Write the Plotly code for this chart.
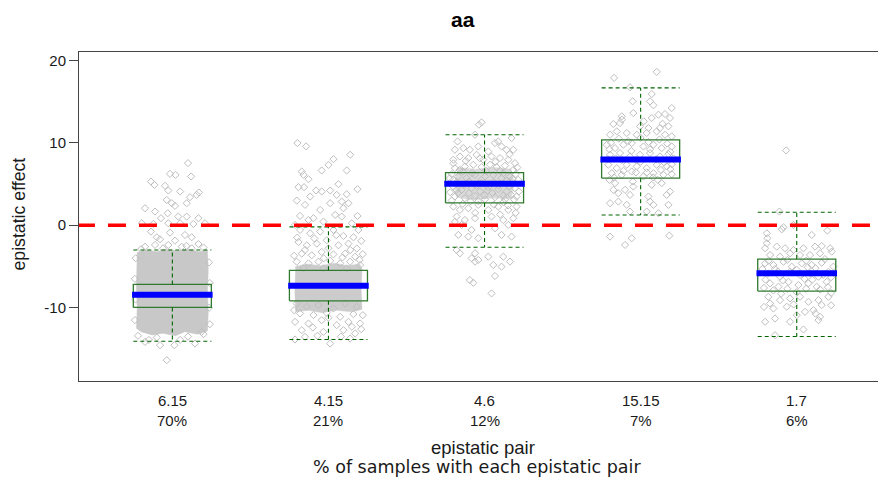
import plotly.graph_objects as go

# ---------------- data ----------------
categories = ["6.15", "4.15", "4.6", "15.15", "1.7"]
percents = ["70%", "21%", "12%", "7%", "6%"]
positions = [1, 2, 3, 4, 5]

q1 = [-9.96, -9.16, 2.71, 5.71, -7.98]
median = [-8.43, -7.34, 5.02, 7.97, -5.83]
q3 = [-7.17, -5.47, 6.39, 10.36, -4.10]
whisk_lo = [-14.06, -13.85, -2.67, 1.25, -13.49]
whisk_hi = [-3.0, -0.2, 10.97, 16.65, 1.58]
ref_value = 0

y_ticks = [-10, 0, 10, 20]
y_tick_text = ["-10", "0", "10", "20"]

# jittered sample points per epistatic pair: (jitter offset, effect)
pts_615 = [
    (0.10, 7.53), (-0.015, 6.23), (0.02, 6.11), (0.12, 5.91), (-0.137, 5.30), (-0.115, 4.90),
    (-0.047, 4.78), (-0.026, 4.21), (0.05, 4.09), (0.17, 3.97), (0.156, 3.68), (-0.175, 2.06),
    (-0.111, 1.66), (-0.036, 3.07), (-0.004, 2.67), (0.017, 2.35), (0.092, 2.67), (0.113, 3.40),
    (-0.03, 1.45), (-0.073, 0.85), (0.038, 1.05), (0.092, 1.05), (0.167, 0.85), (-0.196, 0.24),
    (-0.122, 0.16), (-0.026, 0.24), (0.05, 0.24), (0.135, 0.16), (0.209, 0.24), (-0.137, -0.77),
    (-0.10, -1.46), (-0.079, -1.70), (-0.015, -0.90), (0.017, -1.87), (0.081, -1.18), (0.124, -1.46),
    (0.167, -2.27), (-0.175, -2.60), (-0.111, -2.39), (-0.026, -2.39), (0.06, -2.60), (0.124, -2.80),
    (-0.2, -2.9), (0.2, -2.7), (-0.06, -2.8), (0.09, -2.5),
    (-0.235, -4.0), (-0.24, -6.5), (-0.235, -9.0), (-0.24, -11.5), (0.235, -4.5), (0.24, -7.0),
    (0.235, -10.0), (0.24, -12.0), (-0.22, -13.4), (-0.1, -13.6), (0.1, -13.5), (0.2, -13.2),
    (-0.036, -16.36), (0.013, -14.54), (-0.079, -14.54), (0.145, -14.34), (-0.175, -14.14),
    (0.188, -12.92), (-0.15, -13.9), (0.05, -13.9),
]
pts_415 = [
    (-0.199, 9.96), (-0.143, 9.56), (0.139, 8.54), (0.032, 8.01), (0.0, 7.32), (-0.043, 6.64),
    (0.117, 6.64), (-0.171, 6.51), (-0.16, 6.11), (-0.128, 5.58), (0.064, 4.98), (-0.192, 4.61),
    (-0.156, 4.61), (0.186, 4.37), (-0.079, 4.21), (-0.043, 4.09), (0.011, 4.21), (-0.117, 3.48),
    (0.053, 3.68), (0.117, 3.76), (-0.203, 2.99), (-0.15, 2.47), (-0.053, 1.86), (0.011, 2.67),
    (0.085, 2.87), (0.096, 2.06), (0.128, 2.67), (-0.182, 1.13), (-0.128, 0.64), (-0.096, 0.85),
    (-0.032, 0.44), (0.043, 1.25), (0.085, 1.05), (0.186, 1.13), (0.15, 0.24), (-0.214, 0.04),
    (-0.182, -0.57), (-0.117, -0.98), (-0.053, -0.77), (0.032, -0.57), (0.096, -1.30), (0.16, -1.46),
    (0.192, -0.57), (-0.192, -2.03), (-0.139, -2.43), (-0.075, -2.23), (-0.011, -1.82), (0.064, -2.43),
    (0.128, -2.23), (0.182, -2.83), (-0.171, -3.44), (-0.107, -3.64), (-0.043, -3.24), (0.032, -3.53),
    (0.107, -3.44), (0.171, -3.81), (-0.203, -4.42), (-0.128, -4.62), (-0.064, -4.42), (0.011, -4.30),
    (0.075, -4.62), (0.139, -4.42), (0.203, -4.82), (-0.16, -5.23), (-0.032, -5.23), (0.117, -5.23),
    (-0.2, -1.5), (-0.09, -1.6), (0.05, -1.2), (0.21, -1.9), (-0.15, -3.0), (0.0, -2.8),
    (0.14, -3.0), (0.22, -3.5), (-0.22, -3.7), (-0.03, -4.0), (0.09, -3.9), (0.2, -4.2),
    (-0.203, -9.49), (-0.139, -9.88), (-0.064, -9.68), (0.032, -10.08), (0.107, -9.49), (0.182, -9.88),
    (-0.182, -10.69), (-0.096, -10.89), (-0.011, -10.61), (0.075, -11.10), (0.16, -10.77),
    (-0.214, -11.71), (-0.128, -11.91), (-0.043, -11.51), (0.053, -12.11), (0.128, -11.71),
    (0.203, -11.91), (-0.171, -12.72), (-0.032, -12.92), (0.096, -12.72), (0.171, -13.12),
    (-0.15, -13.53), (0.011, -14.34), (-0.214, -13.85), (0.139, -13.73),
    (-0.1, -12.4), (0.0, -11.2), (0.15, -12.3), (0.22, -10.9), (-0.22, -10.3), (-0.07, -13.4),
    (0.08, -13.5), (0.21, -12.6),
]
pts_46 = [
    (-0.019, 12.47), (-0.036, 12.19), (-0.061, 10.97), (0.173, 10.57), (-0.173, 10.16), (0.088, 10.16),
    (0.067, 9.96), (-0.19, 9.15), (-0.136, 9.35), (-0.094, 9.15), (-0.04, 9.55), (0.024, 8.94),
    (0.109, 9.55), (0.141, 9.15), (0.184, 9.15), (-0.2, 7.94), (-0.158, 8.34), (-0.104, 8.14),
    (-0.051, 8.54), (-0.008, 7.94), (0.045, 8.34), (0.099, 8.14), (0.152, 7.94), (0.195, 7.53),
    (-0.19, 6.92), (-0.126, 7.12), (-0.072, 7.33), (-0.019, 7.04), (0.035, 7.33), (0.077, 7.04),
    (0.131, 7.21), (0.184, 6.72),
    (-0.222, 5.71), (-0.168, 5.91), (-0.115, 5.71), (-0.061, 6.11), (0.003, 5.91), (0.056, 6.11),
    (0.109, 5.71), (0.163, 5.91), (0.216, 5.50), (-0.2, 4.69), (-0.147, 4.29), (-0.083, 4.49),
    (-0.029, 4.09), (0.024, 4.61), (0.088, 4.37), (0.141, 4.09), (0.195, 4.49), (-0.19, 3.48),
    (-0.126, 3.28), (-0.061, 3.56), (0.003, 3.15), (0.067, 3.40), (0.131, 3.15), (0.205, 3.48),
    (-0.18, 5.2), (-0.1, 5.3), (-0.02, 5.5), (0.06, 5.2), (0.14, 5.4), (0.2, 6.2), (-0.21, 6.2),
    (-0.14, 6.5), (0.1, 6.6), (-0.05, 4.8), (0.05, 3.9), (0.17, 3.7), (-0.17, 3.9), (-0.09, 2.9),
    (0.12, 2.8), (0.22, 4.1), (-0.22, 4.0), (0.0, 3.6),
    (-0.2, 7.5), (-0.12, 7.8), (-0.03, 8.1), (0.07, 7.7), (0.16, 8.6), (0.21, 7.0), (-0.16, 6.7),
    (-0.08, 6.3), (0.01, 6.6), (0.12, 6.3), (0.18, 5.6), (-0.2, 5.5), (-0.13, 4.9), (-0.02, 5.1),
    (0.09, 4.8), (0.16, 4.7), (-0.18, 4.3), (-0.1, 3.9), (0.02, 4.2), (0.12, 3.6), (0.19, 3.1),
    (-0.21, 3.0), (-0.14, 2.6), (-0.04, 2.9), (0.06, 2.5), (0.15, 2.4), (-0.06, 1.5), (0.1, 1.3),
    (-0.19, 0.4), (0.2, 1.5),
    (-0.2, 2.26), (-0.158, 1.86), (-0.104, 2.06), (-0.04, 2.47), (0.024, 1.86), (0.088, 2.26),
    (0.152, 1.86), (0.205, 2.26), (-0.179, 1.05), (-0.126, 0.64), (-0.061, 0.85), (0.045, 1.05),
    (0.12, 0.64), (0.184, 0.85), (-0.147, 0.04), (-0.083, -0.57), (0.067, -0.37), (0.152, 0.04),
    (-0.168, -1.17), (-0.104, -1.38), (-0.04, -1.58), (0.109, -1.17), (0.173, -1.38),
    (-0.179, -3.0), (-0.158, -3.40), (-0.061, -3.40), (-0.083, -4.01), (0.024, -3.81), (0.12, -3.81),
    (0.163, -4.41), (-0.04, -4.21), (-0.061, -4.41), (0.056, -4.82), (0.109, -5.02), (-0.094, -6.64),
    (-0.072, -6.97), (0.067, -6.15), (0.045, -8.26),
]
pts_1515 = [
    (0.103, 18.59), (-0.17, 17.86), (-0.068, 16.72), (0.071, 15.91), (-0.051, 15.02), (0.06, 15.02),
    (0.082, 14.54), (0.199, 14.21), (-0.121, 13.2), (-0.047, 13.6), (0.071, 13.0), (0.114, 13.4),
    (0.156, 13.48), (0.188, 13.0), (-0.175, 12.27), (-0.132, 12.39), (-0.004, 11.99), (0.05, 11.78),
    (0.124, 11.78), (0.178, 11.99), (-0.196, 10.97), (-0.153, 11.38), (-0.089, 11.18), (-0.025, 10.97),
    (0.039, 11.18), (0.103, 11.38), (0.156, 10.97), (0.199, 10.77),
    (-0.217, 9.76), (-0.164, 9.35), (-0.111, 9.76), (-0.057, 9.96), (0.018, 9.55), (0.082, 9.76),
    (0.135, 9.35), (0.199, 9.55), (-0.196, 8.54), (-0.132, 8.75), (-0.068, 8.34), (-0.004, 8.54),
    (0.06, 8.75), (0.124, 8.34), (0.178, 8.62), (-0.207, 7.33), (-0.153, 6.92), (-0.089, 7.33),
    (-0.025, 7.13), (0.039, 6.92), (0.103, 7.33), (0.167, 7.13), (-0.185, 6.31), (-0.121, 6.11),
    (-0.057, 6.52), (0.018, 5.91), (0.082, 6.31), (0.146, 6.11), (0.199, 6.19),
    (-0.19, 10.0), (-0.08, 10.2), (0.05, 10.1), (0.17, 9.9), (-0.12, 7.9), (0.0, 7.7), (0.1, 8.0),
    (0.21, 8.1), (-0.21, 8.0), (-0.03, 6.4), (0.13, 6.7), (-0.17, 5.8), (0.08, 5.8), (0.2, 7.4),
    (-0.14, 10.5), (0.0, 10.6), (0.12, 10.4), (-0.2, 9.2), (-0.06, 9.0), (0.06, 9.2), (0.19, 8.9),
    (-0.16, 8.1), (-0.03, 7.9), (0.15, 7.6), (-0.11, 6.6), (0.04, 6.4), (0.19, 6.8), (-0.2, 5.5),
    (-0.05, 5.3), (0.11, 5.5), (-0.12, 12.8), (0.02, 12.6), (0.14, 12.3),
    (-0.164, 5.10), (-0.175, 4.29), (-0.1, 4.29), (-0.047, 4.69), (0.071, 4.90), (0.135, 5.10),
    (0.188, 4.09), (-0.143, 3.88), (-0.068, 3.68), (0.05, 3.48), (0.167, 3.68), (-0.196, 2.67),
    (-0.143, 2.87), (-0.089, 2.47), (0.06, 2.87), (0.082, 2.47), (0.178, 2.47), (0.039, 1.66),
    (0.114, 1.46), (-0.068, 1.66), (-0.196, -1.38), (-0.057, -1.58), (-0.1, -2.39), (0.184, -1.26),
]
pts_17 = [
    (-0.068, 9.07), (-0.111, 1.66), (-0.085, -0.25), (-0.096, -0.49), (0.096, -1.18), (0.196, -0.65),
    (-0.021, 0.04), (-0.192, -0.98), (-0.188, -1.58), (-0.192, -2.19), (-0.203, -2.79), (-0.128, -2.59),
    (-0.075, -2.79), (-0.021, -3.0), (0.043, -2.79), (0.117, -2.59), (0.16, -2.52), (0.214, -2.79),
    (-0.171, -3.61), (-0.107, -3.81), (-0.043, -3.40), (0.021, -3.61), (0.085, -3.61), (0.149, -3.40),
    (0.224, -3.20),
    (-0.203, -4.62), (-0.149, -4.82), (-0.085, -4.42), (-0.032, -5.02), (0.032, -4.62), (0.096, -4.82),
    (0.16, -4.54), (0.235, -5.02), (-0.182, -5.83), (-0.107, -6.24), (-0.043, -5.63), (0.021, -6.03),
    (0.085, -5.83), (0.139, -6.24), (0.203, -5.63), (-0.171, -7.05), (-0.117, -7.45), (-0.053, -6.85),
    (0.011, -7.25), (0.075, -7.05), (0.128, -7.45), (0.192, -6.85),
    (-0.14, -5.3), (0.0, -5.4), (0.12, -5.2), (0.2, -7.5), (-0.2, -6.6), (-0.06, -7.7), (0.05, -6.5),
    (0.17, -6.0), (-0.21, -7.6),
    (-0.18, -4.3), (-0.06, -4.2), (0.06, -4.3), (0.18, -4.1), (-0.12, -5.6), (0.07, -5.1), (0.22, -6.3),
    (-0.22, -5.3), (-0.09, -6.7), (0.1, -6.6), (-0.15, -7.9), (0.0, -8.1), (0.15, -7.8), (0.22, -8.2),
    (-0.1, -8.3), (0.06, -7.7), (-0.21, -9.9), (0.22, -9.7), (-0.02, -9.6), (0.12, -10.7),
    (-0.182, -8.67), (-0.171, -9.48), (-0.107, -9.08), (-0.043, -8.87), (0.021, -8.67), (0.075, -9.28),
    (0.139, -9.08), (0.203, -8.67), (-0.149, -10.09), (-0.064, -9.88), (0.053, -10.49), (0.107, -10.29),
    (0.16, -9.68), (0.0, -10.90), (0.149, -11.10), (-0.203, -11.70), (-0.139, -11.30), (-0.043, -11.70),
    (0.043, -12.64), (-0.139, -13.33), (0.139, -11.5),
]
points_by_pair = [pts_615, pts_415, pts_46, pts_1515, pts_17]

# outlines of the regions where the points overlap into a solid mass
core_615 = [
    (-0.225, -3.3), (-0.17, -3.0), (-0.1, -3.2), (-0.04, -2.9), (0.03, -3.1), (0.1, -2.9),
    (0.17, -3.2), (0.225, -3.0), (0.23, -5.5), (0.225, -8.0), (0.23, -10.5), (0.225, -12.8),
    (0.16, -13.2), (0.08, -12.9), (0.02, -13.4), (-0.06, -13.1), (-0.13, -13.3), (-0.2, -12.9),
    (-0.23, -12.5), (-0.225, -10.0), (-0.23, -7.5), (-0.225, -5.0),
]
core_415 = [
    (-0.21, -5.0), (-0.14, -4.7), (-0.05, -4.9), (0.04, -4.6), (0.12, -4.9), (0.2, -4.7),
    (0.215, -5.3), (0.21, -8.0), (0.215, -10.2), (0.15, -10.5), (0.05, -10.3), (-0.04, -10.6),
    (-0.13, -10.3), (-0.21, -10.5), (-0.215, -8.0),
]
core_46 = [
    (-0.18, 3.4), (-0.08, 3.1), (0.05, 3.3), (0.17, 3.2), (0.19, 5.0), (0.17, 6.8),
    (0.06, 7.0), (-0.06, 6.8), (-0.17, 7.0), (-0.19, 5.0),
]
cores = [(1, core_615, "#c8c8c8"), (2, core_415, "#cccccc"), (3, core_46, "#dadada")]

# ---------------- figure ----------------
POINT_GRAY = "#bebebe"
BOX_GREEN = "#2f7a2f"
WHISK_GREEN = "#006400"
half = 0.25

fig = go.Figure()

for pos, core, col in cores:
    xs = [pos + d for d, _ in core] + [pos + core[0][0]]
    ys = [v for _, v in core] + [core[0][1]]
    fig.add_trace(go.Scatter(x=xs, y=ys, mode="lines", fill="toself",
                             fillcolor=col, line=dict(color=col, width=0.5),
                             hoverinfo="skip", showlegend=False))

for pos, pts in zip(positions, points_by_pair):
    fig.add_trace(go.Scatter(
        x=[pos + d for d, _ in pts], y=[v for _, v in pts], mode="markers",
        marker=dict(symbol="diamond-open", size=5.5, color=POINT_GRAY, line=dict(width=1, color=POINT_GRAY)),
        showlegend=False, hoverinfo="y"))

# boxes
bx, by = [], []
for pos, a, b in zip(positions, q1, q3):
    bx += [pos - half, pos + half, pos + half, pos - half, pos - half, None]
    by += [a, a, b, b, a, None]
fig.add_trace(go.Scatter(x=bx, y=by, mode="lines", line=dict(color=BOX_GREEN, width=1.3),
                         showlegend=False, hoverinfo="skip"))

# whiskers (dashed)
wx, wy = [], []
for pos, a, b, lo, hi in zip(positions, q1, q3, whisk_lo, whisk_hi):
    wx += [pos, pos, None, pos, pos, None, pos - half, pos + half, None, pos - half, pos + half, None]
    wy += [b, hi, None, a, lo, None, hi, hi, None, lo, lo, None]
fig.add_trace(go.Scatter(x=wx, y=wy, mode="lines",
                         line=dict(color=WHISK_GREEN, width=1.1, dash="4px,3px"),
                         showlegend=False, hoverinfo="skip"))

# medians
mx, my = [], []
for pos, m in zip(positions, median):
    mx += [pos - half - 0.008, pos + half + 0.008, None]
    my += [m, m, None]
fig.add_trace(go.Scatter(x=mx, y=my, mode="lines", line=dict(color="#0000ff", width=6),
                         showlegend=False, hoverinfo="skip"))

# reference line at zero
x_lo, x_hi = 0.402, 5.559
fig.add_trace(go.Scatter(x=[x_lo - 0.013, x_hi + 0.05], y=[ref_value, ref_value], mode="lines",
                         line=dict(color="#ff0000", width=3.5, dash="18px,13px"),
                         showlegend=False, hoverinfo="skip"))

# the page body adds an 8px offset, so the figure is 8px smaller than the window
OFF = 8
W, H = 886 - OFF, 485 - OFF
ML, MR, MT, MB = 79 - OFF, 2, 52 - OFF, 104
plot_h = H - MT - MB
plot_w = W - ML - MR


def py(page_y):
    return (H - MB - (page_y - OFF)) / plot_h


def px(page_x):
    return (page_x - OFF - ML) / plot_w


TXT = "#1a1a1a"
annotations = []
for pos, cat, pct in zip(positions, categories, percents):
    annotations.append(dict(x=pos, y=py(400), xref="x", yref="paper", text=cat, showarrow=False,
                            font=dict(family="Liberation Sans", size=15, color=TXT),
                            xanchor="center", yanchor="middle"))
    annotations.append(dict(x=pos, y=py(420), xref="x", yref="paper", text=pct, showarrow=False,
                            font=dict(family="Liberation Sans", size=15, color=TXT),
                            xanchor="center", yanchor="middle"))
annotations.append(dict(x=px(483), y=py(447.5), xref="paper", yref="paper", text="epistatic pair",
                        showarrow=False, font=dict(family="Liberation Sans", size=18.5, color=TXT),
                        xanchor="center", yanchor="middle"))
annotations.append(dict(x=px(477), y=py(467), xref="paper", yref="paper",
                        text="% of samples with each epistatic pair", showarrow=False,
                        font=dict(family="DejaVu Sans", size=17.5, color=TXT),
                        xanchor="center", yanchor="middle"))
annotations.append(dict(x=px(18.5), y=py(214), xref="paper", yref="paper", text="epistatic effect",
                        showarrow=False, textangle=-90,
                        font=dict(family="Liberation Sans", size=17.7, color=TXT),
                        xanchor="center", yanchor="middle"))
annotations.append(dict(x=px(463), y=py(20), xref="paper", yref="paper", text="<b>aa</b>",
                        showarrow=False, font=dict(family="Liberation Sans", size=21, color="#000"),
                        xanchor="center", yanchor="middle"))

fig.update_layout(
    width=W, height=H,
    margin=dict(l=ML, r=MR, t=MT, b=MB, pad=0),
    plot_bgcolor="white", paper_bgcolor="white",
    showlegend=False,
    annotations=annotations,
    xaxis=dict(range=[x_lo, x_hi], showgrid=False, zeroline=False, showticklabels=False,
               ticks="", showline=True, mirror=True, linecolor="#444", linewidth=1),
    yaxis=dict(range=[-18.88, 21.0], tickvals=y_ticks, ticktext=y_tick_text, ticks="outside",
               ticklen=9, tickcolor="#444", tickwidth=1, showgrid=False, zeroline=False,
               showline=True, mirror=True, linecolor="#444", linewidth=1,
               tickfont=dict(family="Liberation Sans", size=15, color=TXT)),
)

fig.write_html("out.html")
